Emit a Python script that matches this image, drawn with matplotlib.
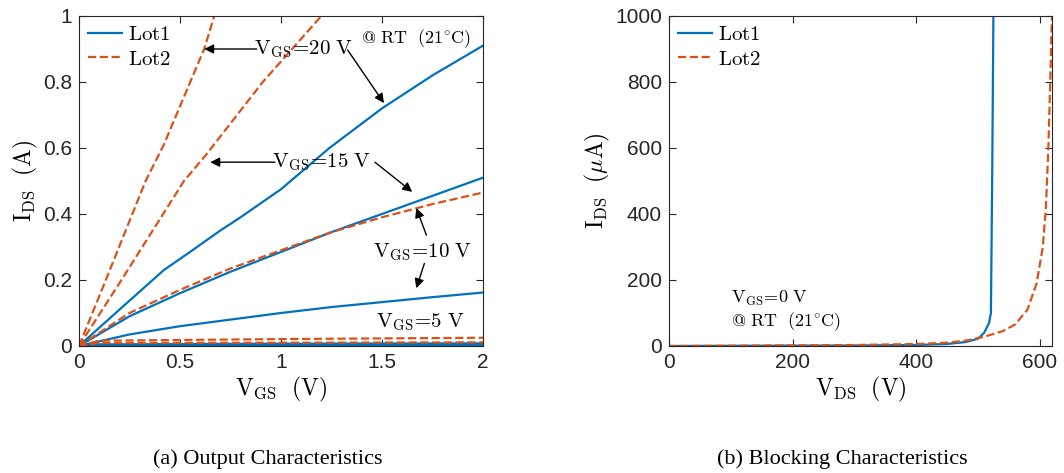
import matplotlib
matplotlib.use("Agg")
import matplotlib.pyplot as plt

plt.rcParams["mathtext.fontset"] = "cm"
plt.rcParams["font.family"] = ["Liberation Sans", "DejaVu Sans"]

BLUE = "#0072BD"
ORANGE = "#D95319"

# (a) output characteristics: x = V (V), y = I_DS (A)
lot1_20_x = [0, 0.2, 0.42, 0.55, 0.7, 0.8, 1.0, 1.24, 1.5, 1.75, 2.0]
lot1_20_y = [0, 0.11, 0.23, 0.285, 0.35, 0.39, 0.475, 0.60, 0.72, 0.82, 0.91]
lot1_15_x = [0, 0.25, 0.5, 0.75, 1.0, 1.25, 1.5, 1.75, 2.0]
lot1_15_y = [0, 0.09, 0.16, 0.225, 0.285, 0.345, 0.40, 0.455, 0.51]
lot1_10_x = [0, 0.25, 0.5, 0.75, 1.0, 1.25, 1.5, 1.75, 2.0]
lot1_10_y = [0, 0.035, 0.06, 0.08, 0.10, 0.118, 0.133, 0.148, 0.162]
lot1_5_x = [0, 0.1, 1.0, 2.0]
lot1_5_y = [0, 0.005, 0.007, 0.008]
lot1_0_x = [0, 0.1, 1.0, 2.0]
lot1_0_y = [0, 0.002, 0.003, 0.003]

lot2_20_x = [0, 0.1, 0.33, 0.42, 0.62, 0.67]
lot2_20_y = [0, 0.15, 0.50, 0.61, 0.90, 1.0]
lot2_15_x = [0, 0.2, 0.52, 0.63, 0.91, 1.2]
lot2_15_y = [0, 0.19, 0.50, 0.58, 0.80, 1.0]
lot2_10_x = [0, 0.25, 0.5, 0.75, 1.0, 1.25, 1.5, 1.75, 2.0]
lot2_10_y = [0, 0.10, 0.17, 0.235, 0.29, 0.345, 0.39, 0.43, 0.465]
lot2_5_x = [0, 0.1, 1.0, 2.0]
lot2_5_y = [0, 0.016, 0.021, 0.025]
lot2_0_x = [0, 0.1, 1.0, 2.0]
lot2_0_y = [0, 0.009, 0.010, 0.011]

# (b) blocking characteristics: x = V_DS (V), y = I_DS (uA)
blk1_x = [0, 100, 200, 300, 400, 450, 480, 500, 510, 518, 521, 523, 525]
blk1_y = [0, 0.5, 1, 1.5, 3, 6, 12, 22, 40, 70, 100, 500, 1000]
blk2_x = [0, 100, 200, 300, 400, 450, 480, 510, 540, 560, 580, 595, 605, 610, 614, 617, 619, 620]
blk2_y = [0, 1, 2, 3, 6, 10, 16, 28, 45, 65, 110, 190, 300, 420, 600, 800, 950, 1000]

fig = plt.figure(figsize=(10.64, 4.73), dpi=100)
ax1 = fig.add_axes([0.0742, 0.2685, 0.3797, 0.6977])
ax2 = fig.add_axes([0.6288, 0.2685, 0.36, 0.6977])

lw = 1.6
ax1.plot(lot1_20_x, lot1_20_y, color=BLUE, lw=lw, label=r"$\mathrm{Lot1}$")
ax1.plot(lot2_20_x, lot2_20_y, color=ORANGE, lw=lw, ls="--", label=r"$\mathrm{Lot2}$")
for x, y in [(lot1_15_x, lot1_15_y), (lot1_10_x, lot1_10_y), (lot1_5_x, lot1_5_y), (lot1_0_x, lot1_0_y)]:
    ax1.plot(x, y, color=BLUE, lw=lw)
for x, y in [(lot2_15_x, lot2_15_y), (lot2_10_x, lot2_10_y), (lot2_5_x, lot2_5_y), (lot2_0_x, lot2_0_y)]:
    ax1.plot(x, y, color=ORANGE, lw=lw, ls="--")

ax1.set_xlim(0, 2)
ax1.set_ylim(0, 1)
ax1.set_xticks([0, 0.5, 1, 1.5, 2])
ax1.set_xticklabels(["0", "0.5", "1", "1.5", "2"])
ax1.set_yticks([0, 0.2, 0.4, 0.6, 0.8, 1])
ax1.set_yticklabels(["0", "0.2", "0.4", "0.6", "0.8", "1"])
ax1.set_xlabel(r"$\mathrm{V_{GS}\ \ (V)}$", fontsize=17, labelpad=2)
ax1.set_ylabel(r"$\mathrm{I_{DS}\ \ (A)}$", fontsize=17, labelpad=2)

tsz = 15
rt = r"$\mathrm{@\ RT\ \ (21^{\circ}C)}$"
ax1.text(1.94, 0.93, rt, fontsize=13, ha="right", va="center")
ax1.text(1.11, 0.90, r"$\mathrm{V_{GS}\!=\!20\ V}$", fontsize=tsz, ha="center", va="center")
ax1.text(1.20, 0.557, r"$\mathrm{V_{GS}\!=\!15\ V}$", fontsize=tsz, ha="center", va="center")
ax1.text(1.70, 0.285, r"$\mathrm{V_{GS}\!=\!10\ V}$", fontsize=tsz, ha="center", va="center")
ax1.text(1.69, 0.073, r"$\mathrm{V_{GS}\!=\!5\ V}$", fontsize=tsz, ha="center", va="center")

arrow = dict(arrowstyle="-|>", color="black", lw=1.0, mutation_scale=14, shrinkA=0, shrinkB=0)
ax1.annotate("", xy=(0.62, 0.90), xytext=(0.88, 0.90), arrowprops=arrow)
ax1.annotate("", xy=(1.51, 0.736), xytext=(1.33, 0.897), arrowprops=arrow)
ax1.annotate("", xy=(0.65, 0.557), xytext=(0.97, 0.557), arrowprops=arrow)
ax1.annotate("", xy=(1.65, 0.467), xytext=(1.465, 0.557), arrowprops=arrow)
ax1.annotate("", xy=(1.67, 0.418), xytext=(1.72, 0.336), arrowprops=arrow)
ax1.annotate("", xy=(1.67, 0.175), xytext=(1.71, 0.25), arrowprops=arrow)

ax2.plot(blk1_x, blk1_y, color=BLUE, lw=lw, label=r"$\mathrm{Lot1}$")
ax2.plot(blk2_x, blk2_y, color=ORANGE, lw=lw, ls="--", label=r"$\mathrm{Lot2}$")
ax2.set_xlim(0, 620)
ax2.set_ylim(0, 1000)
ax2.set_xticks([0, 200, 400, 600])
ax2.set_yticks([0, 200, 400, 600, 800, 1000])
ax2.set_xlabel(r"$\mathrm{V_{DS}\ \ (V)}$", fontsize=17, labelpad=2)
ax2.set_ylabel(r"$\mathrm{I_{DS}}\ \ (\mu\mathrm{A})$", fontsize=17, labelpad=2)
ax2.text(100, 145, r"$\mathrm{V_{GS}\!=\!0\ V}$", fontsize=13, ha="left", va="center")
ax2.text(100, 73, rt, fontsize=13, ha="left", va="center")

for ax in (ax1, ax2):
    ax.tick_params(direction="in", top=True, right=True, labelsize=15, length=5,
                   width=0.8, color="#262626", labelcolor="#262626", pad=5)
    for s in ax.spines.values():
        s.set_color("#262626")
        s.set_linewidth(0.8)
    ax.legend(loc="upper left", frameon=False, fontsize=15, handlelength=1.6,
              handletextpad=0.3, borderaxespad=0.05, labelspacing=0.25)

fig.text(268 / 1064, 1 - 459 / 473, "(a) Output Characteristics", fontsize=16,
         family="Liberation Serif", ha="center", va="center")
fig.text(842 / 1064, 1 - 459 / 473, "(b) Blocking Characteristics", fontsize=16,
         family="Liberation Serif", ha="center", va="center")

fig.savefig("out.png", dpi=100)
